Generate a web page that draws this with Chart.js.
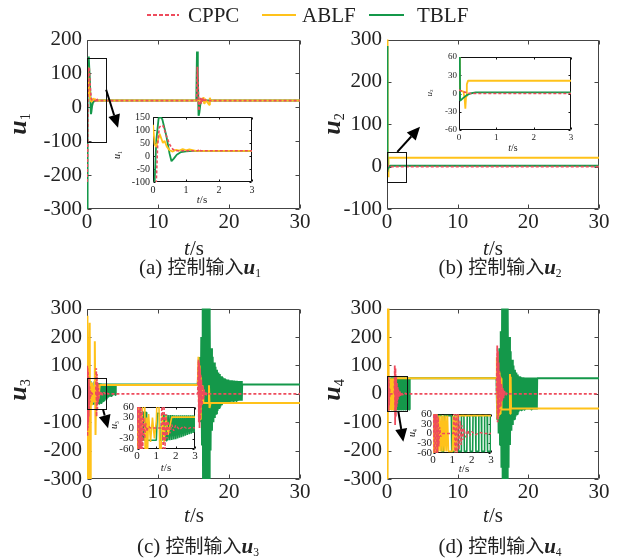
<!DOCTYPE html>
<html lang="zh">
<head>
<meta charset="utf-8">
<title>控制输入</title>
<script src="https://cdn.jsdelivr.net/npm/chart.js@4.4.1/dist/chart.umd.min.js"></script>
<style>
  body { margin: 0; background: #fff; }
  #fig { position: relative; width: 618px; height: 560px; overflow: hidden;
         font-family: 'Liberation Serif', 'Times New Roman', serif; color: #222; }
  #fig canvas { position: absolute; }
  .t { position: absolute; white-space: nowrap; line-height: 1; transform: translate(-50%, -50%); }
  .r { transform: translate(-50%, -50%) rotate(-90deg); }
  .t sub { font-size: 0.55em; vertical-align: -0.3em; font-style: normal; font-weight: normal; }
  .zh { font-family: 'Noto Sans CJK SC', sans-serif; font-size: 19px; }
  .key { position: absolute; height: 2px; top: 14px; }
  .lg { position: absolute; top: 15px; font-size: 21px; line-height: 1; transform: translateY(-50%); }
</style>
</head>
<body>
<div id="fig">
  <canvas id="pa"></canvas>
  <canvas id="pb"></canvas>
  <canvas id="pc"></canvas>
  <canvas id="pd"></canvas>
  <canvas id="ia"></canvas>
  <canvas id="ib"></canvas>
  <canvas id="ic"></canvas>
  <canvas id="id"></canvas>

  <!-- legend -->
  <div class="key" style="left:147px;width:32px;background:repeating-linear-gradient(90deg,#ee4b5c 0 4px,transparent 4px 6px)"></div>
  <span class="lg" style="left:188px">CPPC</span>
  <div class="key" style="left:262px;width:34px;background:#ffc21a"></div>
  <span class="lg" style="left:302px">ABLF</span>
  <div class="key" style="left:369px;width:35px;background:#14984a"></div>
  <span class="lg" style="left:417px">TBLF</span>

  <!-- axis titles -->
  <span class="t r" style="left:19px;top:124px;font-size:26px"><b><i>u</i></b><sub>1</sub></span>
  <span class="t r" style="left:333px;top:124px;font-size:26px"><b><i>u</i></b><sub>2</sub></span>
  <span class="t r" style="left:19px;top:390px;font-size:26px"><b><i>u</i></b><sub>3</sub></span>
  <span class="t r" style="left:333px;top:390px;font-size:26px"><b><i>u</i></b><sub>4</sub></span>
  <span class="t" style="left:194px;top:248px;font-size:21px"><i>t</i>/s</span>
  <span class="t" style="left:493px;top:248px;font-size:21px"><i>t</i>/s</span>
  <span class="t" style="left:194px;top:515px;font-size:21px"><i>t</i>/s</span>
  <span class="t" style="left:493px;top:515px;font-size:21px"><i>t</i>/s</span>

  <!-- inset titles -->
  <span class="t r" style="left:118px;top:155px;font-size:10px"><i>u</i><sub>1</sub></span>
  <span class="t" style="left:202px;top:199px;font-size:11px"><i>t</i>/s</span>
  <span class="t r" style="left:430px;top:93px;font-size:9px"><i>u</i><sub>2</sub></span>
  <span class="t" style="left:513px;top:148px;font-size:10px"><i>t</i>/s</span>
  <span class="t r" style="left:115px;top:425px;font-size:10px"><i>u</i><sub>3</sub></span>
  <span class="t" style="left:166px;top:467px;font-size:11px"><i>t</i>/s</span>
  <span class="t r" style="left:413px;top:433px;font-size:10px"><i>u</i><sub>4</sub></span>
  <span class="t" style="left:464px;top:468px;font-size:11px"><i>t</i>/s</span>

  <!-- captions -->
  <span class="t" style="left:200px;top:268px;font-size:21px">(a) <span class="zh">控制输入</span><b><i>u</i></b><sub>1</sub></span>
  <span class="t" style="left:500px;top:268px;font-size:21px">(b) <span class="zh">控制输入</span><b><i>u</i></b><sub>2</sub></span>
  <span class="t" style="left:198px;top:547px;font-size:21px">(c) <span class="zh">控制输入</span><b><i>u</i></b><sub>3</sub></span>
  <span class="t" style="left:500px;top:547px;font-size:21px">(d) <span class="zh">控制输入</span><b><i>u</i></b><sub>4</sub></span>
</div>

<script>
// time axis (s) and value ranges
const timeRange = [0, 30];
const zoomTime = [0, 3];
const u1Range = [-300, 200];
const u2Range = [-100, 300];
const u3Range = [-300, 300];
const u4Range = [-300, 300];
const u1Zoom = [-100, 150];
const u2Zoom = [-60, 60];
const u3Zoom = [-60, 60];
const u4Zoom = [-60, 60];

// control input u1, [t, value]
const u1Cppc = [[0,-220],[0.1,-100],[0.14,40],[0.19,110],[0.25,118],[0.31,115],[0.4,80],[0.5,45],[0.6,26],[0.7,20],
  [1.36,20],[1.4,26],[1.45,20],[15.45,20],[15.55,120],[15.65,60],[15.75,-10],[15.85,8],[16.0,28],[16.1,12],
  [16.25,30],[16.4,16],[16.6,22],[17.0,20],[30,20]];
const u1Ablf = [[0,120],[0.05,45],[0.1,35],[0.15,60],[0.2,85],[0.25,68],[0.3,50],[0.35,58],[0.42,36],[0.5,22],
  [0.6,17],[0.7,24],[0.8,21],[0.9,27],[1.0,22],[1.1,25],[1.3,20],[16.3,20],[16.4,30],[16.5,12],[16.6,25],
  [16.8,20],[17.2,8],[17.3,28],[17.4,20],[30,20]];
const u1Tblf = [[0,-320],[0.05,-100],[0.1,60],[0.17,145],[0.22,150],[0.28,142],[0.4,80],[0.5,10],[0.56,-20],
  [0.63,-10],[0.72,5],[0.85,15],[1.0,18],[1.2,20],[15.4,20],[15.5,165],[15.6,100],[15.72,-25],[15.82,-15],
  [15.95,8],[16.1,18],[16.3,20],[30,20]];

// control input u2
const u2Cppc = [[0,6],[0.1,3],[0.3,0],[30,0]];
const u2Ablf = [[0,320],[0.02,5],[0.12,3],[0.15,-8],[0.17,-25],[0.19,-5],[0.21,15],[0.24,21],[30,21]];
const u2Tblf = [[0,285],[0.03,-12],[0.1,-8],[0.2,-3],[0.3,0],[0.45,2],[30,2]];

// control input u3
const u3Cppc = [[0,0],[0.03,100],[0.06,-150],[0.09,90],[0.12,-120],[0.15,80],[0.18,-100],[0.21,60],[0.24,-80],
  [0.27,50],[0.3,-60],[0.35,30],[0.4,-30],[0.45,15],[0.5,-10],[0.6,5],[0.7,0],[1.25,0],[1.3,90],[1.35,-80],
  [1.4,70],[1.45,-60],[1.5,40],[1.55,-30],[1.6,20],[1.7,-15],[1.8,10],[1.9,-8],[2.0,8],[2.2,-5],[2.4,5],
  [2.6,-3],[2.8,2],[3.0,0],[15.6,0],[15.7,120],[15.75,-100],[15.8,110],[15.85,-120],[15.9,90],[15.95,-90],
  [16.0,70],[16.05,-70],[16.1,50],[16.2,-40],[16.3,30],[16.4,-20],[16.5,15],[16.7,-8],[16.9,5],[17.2,0],[30,0]];
const u3Ablf = [[0,0],[0.03,275],[0.06,-320],[0.1,60],[0.15,-320],[0.2,40],[0.25,-20],[0.38,250],[0.45,-320],
  [0.5,30],[0.55,-60],[0.6,40],[0.7,-40],[0.8,30],[0.9,-30],[1.0,20],[1.1,185],[1.2,-145],[1.3,40],[1.4,-40],
  [1.5,35],[1.6,-20],[1.8,31],[15.6,31],[15.7,130],[15.78,-60],[15.86,100],[15.94,-90],[16.02,60],[16.1,-40],
  [16.25,30],[16.4,-32],[17.1,-32],[17.18,30],[17.26,-50],[17.4,-32],[30,-32]];
const u3Tblf = [[0,45],[0.05,45],[0.06,-35],[0.12,-35],[0.13,45],[0.2,45],[0.21,-35],[0.27,-35],[0.28,45],
  [0.35,45],[0.36,-35],[0.42,-35],[0.43,45],[0.48,45],[0.5,-35],[1.0,-35],[1.05,42],[1.15,42],[1.2,-35],
  [1.3,-35],[1.35,40],[1.4,-36],[1.45,38],[1.5,-36],[1.55,38],[1.6,-35],[1.65,37],[1.7,-35],[1.75,37],
  [1.8,-34],[1.85,37],[1.9,-33],[1.95,36],[2.0,-32],[2.05,36],[2.1,-30],[2.15,36],[2.2,-28],[2.25,36],
  [2.3,-26],[2.35,36],[2.4,-24],[2.45,36],[2.5,-22],[2.55,36],[2.6,-20],[2.65,36],[2.7,-18],[2.75,36],
  [2.8,-16],[2.85,36],[2.9,-14],[2.95,36],[3.0,-12],[3.1,36],[3.2,-10],[3.3,36],[3.4,-8],[3.5,36],[3.6,-6],
  [3.7,36],[3.8,-5],[3.9,36],[4.0,-4],[4.05,33],[15.6,33],[15.7,90],[15.8,-60],[15.9,130],[16.0,-100],
  [16.1,200],[16.2,-180],[16.3,330],[16.35,-330],[16.4,330],[16.45,-330],[16.5,330],[16.55,-330],[16.6,330],
  [16.65,-330],[16.7,330],[16.75,-330],[16.8,330],[16.85,-330],[16.9,330],[16.95,-330],[17.0,330],[17.05,-330],
  [17.1,330],[17.15,-330],[17.2,330],[17.25,-330],[17.3,260],[17.4,-200],[17.5,160],[17.6,-130],[17.7,130],
  [17.8,-100],[17.9,110],[18.0,-85],[18.1,95],[18.2,-70],[18.3,85],[18.4,-60],[18.5,75],[18.6,-50],[18.7,70],
  [18.8,-45],[18.9,62],[19.0,-40],[19.1,58],[19.2,-36],[19.3,55],[19.4,-34],[19.5,52],[19.6,-32],[19.7,50],
  [19.8,-30],[19.9,50],[20.0,-30],[20.1,48],[20.2,-28],[20.3,48],[20.4,-28],[20.5,47],[20.6,-26],[20.7,47],
  [20.8,-26],[20.9,46],[21.0,-25],[21.1,46],[21.2,-25],[21.3,45],[21.4,-24],[21.5,45],[21.6,-24],[21.7,45],
  [21.8,-24],[21.85,33],[30,33]];

// control input u4
const u4Cppc = [[0,0],[0.03,60],[0.06,-60],[0.09,60],[0.12,-60],[0.15,60],[0.18,-60],[0.21,60],[0.24,-60],
  [0.27,50],[0.3,-40],[0.35,20],[0.4,-10],[0.5,0],[1.05,0],[1.1,100],[1.15,-110],[1.2,90],[1.25,-80],[1.3,60],
  [1.35,-50],[1.4,40],[1.45,-35],[1.5,25],[1.55,-20],[1.6,15],[1.7,-12],[1.8,10],[1.9,-8],[2.0,6],[2.2,-4],
  [2.4,3],[2.7,0],[15.5,0],[15.6,170],[15.65,-100],[15.7,150],[15.75,-90],[15.8,110],[15.85,-70],[15.9,80],
  [15.95,-60],[16.0,60],[16.1,-45],[16.2,35],[16.3,-25],[16.4,20],[16.5,-15],[16.6,10],[16.8,-6],[17.0,4],
  [17.3,0],[30,0]];
const u4Ablf = [[0,320],[0.04,-320],[0.08,320],[0.12,-320],[0.16,320],[0.2,-55],[0.25,55],[0.3,-55],[0.35,55],
  [0.4,-55],[0.45,55],[0.5,-55],[0.55,55],[0.6,-55],[0.65,55],[0.7,-55],[0.75,55],[0.8,-55],[1.0,-55],
  [1.05,55],[1.1,-55],[1.15,55],[1.2,-55],[1.25,55],[15.5,55],[15.55,130],[15.6,-80],[15.65,95],[15.7,-90],
  [15.75,80],[15.8,-80],[15.85,75],[15.9,-75],[15.95,70],[16.0,-70],[16.05,60],[16.1,-60],[16.15,55],
  [16.2,-55],[17.35,-55],[17.4,70],[17.45,-70],[17.5,60],[17.55,-52],[30,-52]];
const u4Tblf = [[0,-55],[0.25,-55],[0.27,55],[0.45,55],[0.47,-55],[0.55,-55],[0.57,55],[0.95,55],[0.97,-55],
  [1.1,-55],[1.12,55],[1.3,55],[1.32,-55],[1.45,-55],[1.47,55],[1.6,55],[1.62,-55],[1.75,-55],[1.77,55],
  [1.9,55],[1.92,-55],[2.05,-55],[2.07,55],[2.2,55],[2.22,-55],[2.35,-55],[2.37,55],[2.5,55],[2.52,-55],
  [2.65,-55],[2.67,55],[2.8,55],[2.82,-55],[2.95,-55],[2.97,55],[3.1,55],[3.12,-55],[3.2,-55],[3.22,55],
  [15.5,55],[15.6,-90],[15.7,120],[15.8,-140],[15.9,160],[16.0,-180],[16.1,220],[16.2,-260],[16.3,330],
  [16.35,-330],[16.4,330],[16.45,-330],[16.5,330],[16.55,-330],[16.6,330],[16.65,-330],[16.7,330],[16.75,-330],
  [16.8,330],[16.85,-330],[16.9,330],[16.95,-330],[17.0,330],[17.05,-330],[17.1,300],[17.2,-260],[17.3,200],
  [17.4,-180],[17.5,150],[17.6,-130],[17.7,120],[17.8,-110],[17.9,100],[18.0,-90],[18.1,85],[18.2,-80],
  [18.3,75],[18.4,-72],[18.5,68],[18.6,-65],[18.7,62],[18.8,-60],[18.9,60],[19.0,-58],[19.1,58],[19.2,-56],
  [19.3,58],[19.4,-56],[19.5,57],[19.6,-55],[19.7,57],[19.8,-55],[19.9,57],[20.0,-55],[20.1,57],[20.2,-55],
  [20.3,57],[20.4,-55],[20.5,57],[20.6,-55],[20.7,57],[20.8,-55],[20.9,57],[21.0,-55],[21.1,57],[21.2,-55],
  [21.25,55],[30,55]];

const RED = '#ee4b5c', YEL = '#ffc21a', GRN = '#14984a';
const SERIF = "'Liberation Serif', 'Times New Roman', serif";

Chart.defaults.font.family = SERIF;

function toXY(pairs) {
    return pairs.map(p => ({ x: p[0], y: p[1] }));
}

// first dataset ends up on top; greenOver puts TBLF above ABLF
function lineSets(cppc, ablf, tblf, w, greenOver) {
    const red = { label: 'CPPC', data: toXY(cppc), borderColor: RED, borderWidth: w - 0.2, borderDash: [3, 2] };
    const yel = { label: 'ABLF', data: toXY(ablf), borderColor: YEL, borderWidth: w };
    const grn = { label: 'TBLF', data: toXY(tblf), borderColor: GRN, borderWidth: w };
    return greenOver ? [red, grn, yel] : [red, yel, grn];
}

// box outline with inward ticks, white paper under insets
const framePlugin = {
    id: 'frame',
    beforeDraw(chart, args, o) {
        if (!o.paper) return;
        const a = chart.chartArea, ctx = chart.ctx;
        ctx.save();
        ctx.fillStyle = '#fff';
        ctx.fillRect(a.left, a.top, a.right - a.left, a.bottom - a.top);
        ctx.restore();
    },
    beforeDatasetsDraw(chart, args, o) {
        const { ctx, chartArea: a, scales: { x, y } } = chart;
        const L = Math.round(a.left) + 0.5, R = Math.round(a.right) - 0.5;
        const T = Math.round(a.top) + 0.5, B = Math.round(a.bottom) - 0.5;
        ctx.save();
        ctx.strokeStyle = o.color;
        ctx.lineWidth = 1;
        ctx.beginPath();
        ctx.rect(L, T, R - L, B - T);
        x.ticks.forEach(t => {
            const p = Math.round(x.getPixelForValue(t.value)) + 0.5;
            ctx.moveTo(p, B); ctx.lineTo(p, B - o.tick);
            ctx.moveTo(p, T); ctx.lineTo(p, T + o.tick);
        });
        y.ticks.forEach(t => {
            const p = Math.round(y.getPixelForValue(t.value)) + 0.5;
            ctx.moveTo(L, p); ctx.lineTo(L + o.tick, p);
            ctx.moveTo(R, p); ctx.lineTo(R - o.tick, p);
        });
        ctx.stroke();
        ctx.restore();
    }
};

// zoom window and arrow pointing to the inset, in data units
const zoomPlugin = {
    id: 'zoomMark',
    afterDatasetsDraw(chart, args, o) {
        if (!o.box) return;
        const { ctx, scales: { x, y } } = chart;
        const x0 = x.getPixelForValue(o.box[0]), x1 = x.getPixelForValue(o.box[1]);
        const y0 = y.getPixelForValue(o.box[2]), y1 = y.getPixelForValue(o.box[3]);
        ctx.save();
        ctx.strokeStyle = '#111';
        ctx.lineWidth = 1;
        ctx.strokeRect(Math.round(x0) + 0.5, Math.round(y1) + 0.5, Math.round(x1 - x0), Math.round(y0 - y1));

        const ax = x.getPixelForValue(o.from[0]), ay = y.getPixelForValue(o.from[1]);
        const bx = x.getPixelForValue(o.to[0]), by = y.getPixelForValue(o.to[1]);
        const ang = Math.atan2(by - ay, bx - ax), head = 13, half = 6;
        const hx = bx - head * Math.cos(ang), hy = by - head * Math.sin(ang);
        ctx.strokeStyle = '#000';
        ctx.lineWidth = 2;
        ctx.beginPath();
        ctx.moveTo(ax, ay);
        ctx.lineTo(hx, hy);
        ctx.stroke();
        ctx.fillStyle = '#000';
        ctx.beginPath();
        ctx.moveTo(bx, by);
        ctx.lineTo(hx - half * Math.sin(ang), hy + half * Math.cos(ang));
        ctx.lineTo(hx + half * Math.sin(ang), hy - half * Math.cos(ang));
        ctx.closePath();
        ctx.fill();
        ctx.restore();
    }
};

function plot(id, g, sets, xr, yr, xStep, yStep, mark) {
    const cv = document.getElementById(id);
    cv.width = g.w; cv.height = g.h;
    cv.style.left = g.left + 'px';
    cv.style.top = g.top + 'px';
    const font = { family: SERIF, size: g.fs };
    return new Chart(cv, {
        type: 'line',
        data: { datasets: sets },
        options: {
            responsive: false,
            animation: false,
            events: [],
            layout: { padding: { top: g.pt, right: g.pr, left: 0, bottom: 0 } },
            elements: {
                point: { radius: 0 },
                line: { tension: 0, borderJoinStyle: 'bevel', fill: false }
            },
            plugins: {
                legend: { display: false },
                tooltip: { enabled: false },
                frame: { paper: !!g.paper, color: g.paper ? '#111' : '#444', tick: g.tick },
                zoomMark: mark || {}
            },
            scales: {
                x: {
                    type: 'linear', min: xr[0], max: xr[1],
                    afterFit: s => { s.height = g.xh; },
                    ticks: { stepSize: xStep, font: font, color: '#222', padding: g.xp, maxRotation: 0, autoSkip: false },
                    grid: { display: false, drawTicks: false },
                    border: { display: false }
                },
                y: {
                    type: 'linear', min: yr[0], max: yr[1],
                    afterFit: s => { s.width = g.yw; },
                    ticks: { stepSize: yStep, font: font, color: '#222', padding: g.yp, autoSkip: false },
                    grid: { display: false, drawTicks: false },
                    border: { display: false }
                }
            }
        },
        plugins: [framePlugin, zoomPlugin]
    });
}

// main panels
plot('pa', { left: 0, top: 22, w: 318, h: 215, yw: 87, xh: 28, pt: 17, pr: 18, fs: 21, xp: 1, yp: 5, tick: 4 },
    lineSets(u1Cppc, u1Ablf, u1Tblf, 2), timeRange, u1Range, 10, 100,
    { box: [0, 2.7, -100, 147], from: [2.7, 52], to: [4.37, -60] });
plot('pb', { left: 300, top: 22, w: 317, h: 215, yw: 87, xh: 28, pt: 17, pr: 18, fs: 21, xp: 1, yp: 5, tick: 4 },
    lineSets(u2Cppc, u2Ablf, u2Tblf, 2, true), timeRange, u2Range, 10, 100,
    { box: [0, 2.7, -37, 35], from: [1.46, 35], to: [4.67, 94] });
plot('pc', { left: 0, top: 291, w: 318, h: 216, yw: 87, xh: 28, pt: 17, pr: 18, fs: 21, xp: 1, yp: 5, tick: 4 },
    lineSets(u3Cppc, u3Ablf, u3Tblf, 2), timeRange, u3Range, 10, 100,
    { box: [0, 2.7, -54, 54], from: [2.25, -54], to: [2.96, -121] });
plot('pd', { left: 300, top: 291, w: 317, h: 216, yw: 87, xh: 28, pt: 17, pr: 18, fs: 21, xp: 1, yp: 5, tick: 4 },
    lineSets(u4Cppc, u4Ablf, u4Tblf, 2), timeRange, u4Range, 10, 100,
    { box: [0, 2.8, -62, 62], from: [1.6, -62], to: [2.31, -169] });

// zoomed insets over the first 3 s
plot('ia', { left: 110, top: 105, w: 152, h: 92, yw: 43, xh: 15, pt: 12, pr: 10, fs: 10, xp: 2, yp: 3, tick: 2, paper: true },
    lineSets(u1Cppc, u1Ablf, u1Tblf, 1.8), zoomTime, u1Zoom, 1, 50);
plot('ib', { left: 420, top: 45, w: 162, h: 100, yw: 39, xh: 15, pt: 12, pr: 11, fs: 9, xp: 2, yp: 2, tick: 2, paper: true },
    lineSets(u2Cppc, u2Ablf, u2Tblf, 1.8, true), zoomTime, u2Zoom, 1, 30);
plot('ic', { left: 100, top: 396, w: 105, h: 65, yw: 37, xh: 12, pt: 11, pr: 10, fs: 11, xp: 1, yp: 3, tick: 2, paper: true },
    lineSets(u3Cppc, u3Ablf, u3Tblf, 1.6), zoomTime, u3Zoom, 1, 30);
plot('id', { left: 400, top: 403, w: 101, h: 62, yw: 33, xh: 12, pt: 11, pr: 10, fs: 11, xp: 1, yp: 1, tick: 2, paper: true },
    lineSets(u4Cppc, u4Ablf, u4Tblf, 1.6), zoomTime, u4Zoom, 1, 30);
</script>
</body>
</html>
